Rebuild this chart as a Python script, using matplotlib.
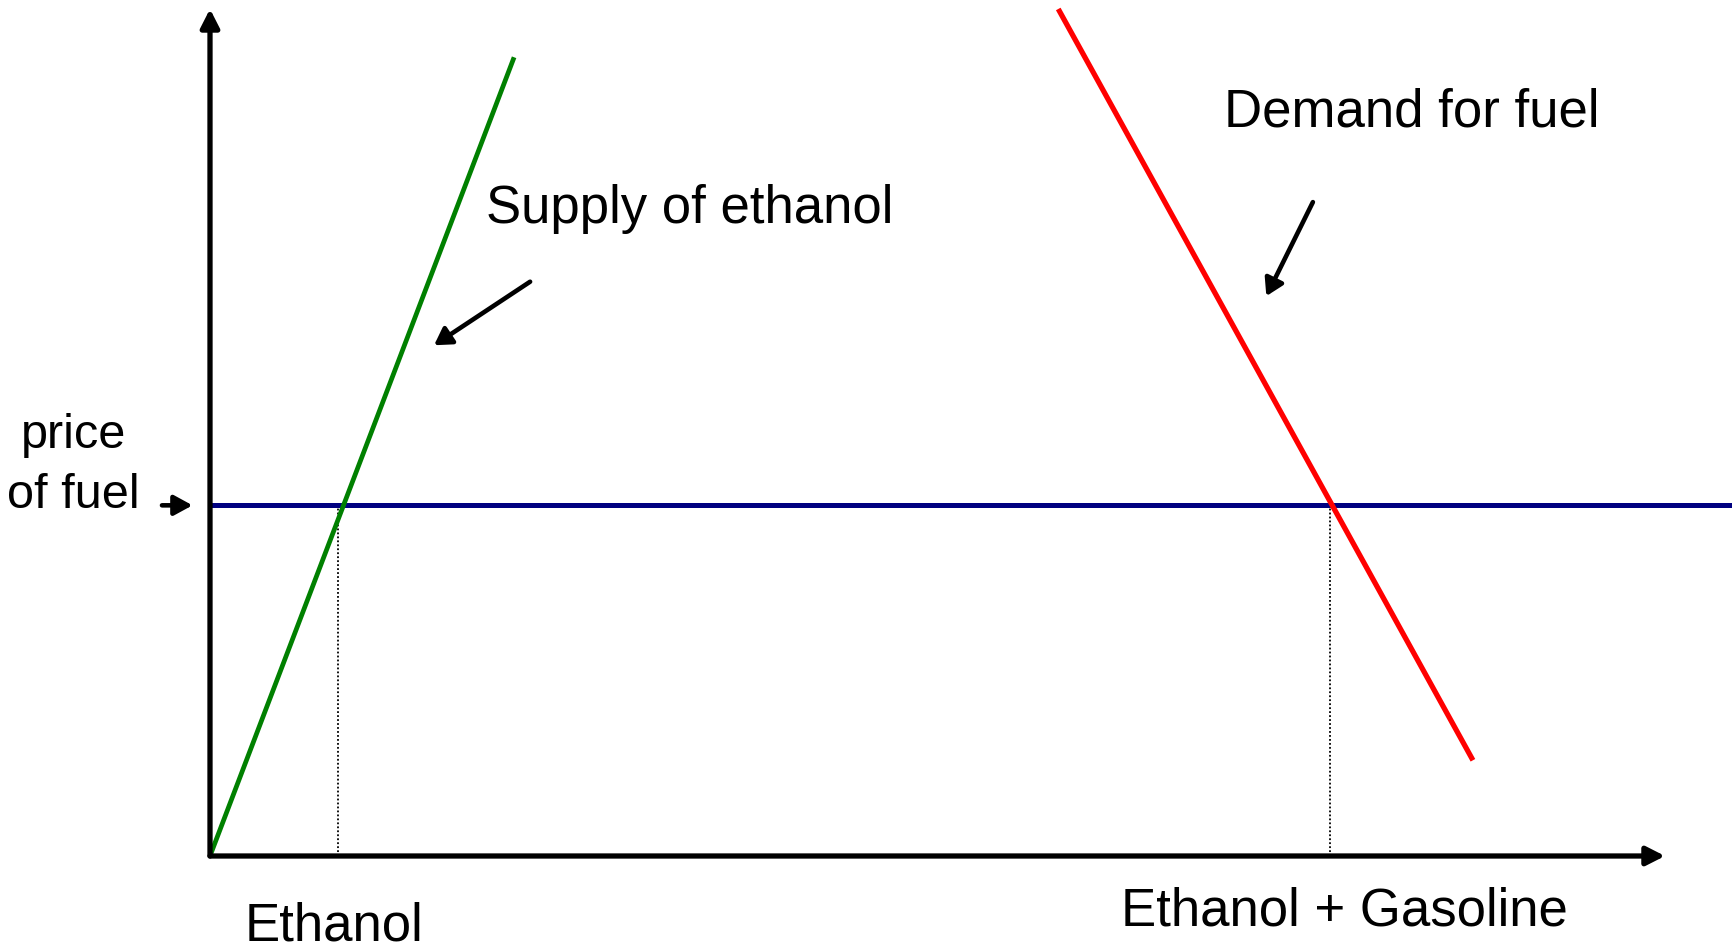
import matplotlib
matplotlib.use("Agg")
import matplotlib.pyplot as plt

plt.rcParams['font.family'] = ['Liberation Sans', 'DejaVu Sans']

# ---- diagram data (quantity Q, price P) ----
supply_q = [0.0, 20.9]
supply_p = [0.0, 94.3]
demand_q = [58.3, 86.8]
demand_p = [100.0, 11.3]
price_level = 41.4
price_line_q = [0.0, 104.7]
ethanol_qty = 8.8
total_qty = 77.0
axis_max_q = 100.0
axis_max_p = 100.0

labels = {
    'supply': 'Supply of ethanol',
    'demand': 'Demand for fuel',
    'x_left': 'Ethanol',
    'x_right': 'Ethanol + Gasoline',
    'y1': 'price',
    'y2': 'of fuel',
}

fig = plt.figure(figsize=(17.32, 9.49), dpi=100)
ax = fig.add_axes([0, 0, 1, 1])
ax.set_xlim(-14.433, 104.605)
ax.set_ylim(-10.98, 101.06)
ax.axis('off')

# axes with arrows
def arrow(x0, y0, x1, y1, lw, hl, hw, ms=20):
    ax.annotate('', xy=(x1, y1), xytext=(x0, y0),
                arrowprops=dict(arrowstyle=f'-|>,head_length={hl},head_width={hw}',
                                lw=lw, color='black', shrinkA=0, shrinkB=0,
                                mutation_scale=ms))

arrow(0, 0, axis_max_q, 0, 3.8, 0.55, 0.28)
arrow(0, 0, 0, axis_max_p, 3.8, 0.55, 0.28)

# dotted guides
ax.plot([ethanol_qty, ethanol_qty], [0, price_level], color='black', lw=1.3,
        linestyle=(0, (1, 1.2)))
ax.plot([total_qty, total_qty], [0, price_level], color='black', lw=1.3,
        linestyle=(0, (1, 1.2)))

# price line
ax.plot(price_line_q, [price_level, price_level], color='#000080', lw=3.6,
        solid_capstyle='butt')
# supply & demand
ax.plot(supply_q, supply_p, color='#008000', lw=3.4, solid_capstyle='butt')
ax.plot(demand_q, demand_p, color='#ff0000', lw=3.8, solid_capstyle='butt')

# pointer arrows
arrow(22.0, 67.8, 15.4, 60.3, 3.3, 0.5, 0.3)
arrow(75.8, 77.2, 72.6, 66.1, 3.3, 0.5, 0.3)
arrow(-3.3, price_level, -1.2, price_level, 3.3, 0.55, 0.3)

fs = 38
ax.text(19.0, 74.7, labels['supply'], fontsize=fs, ha='left', va='baseline')
ax.text(69.7, 86.1, labels['demand'], fontsize=fs, ha='left', va='baseline')
ax.text(62.6, -8.26, labels['x_right'], fontsize=fs, ha='left', va='baseline')
ax.text(2.4, -10.0, labels['x_left'], fontsize=fs, ha='left', va='baseline')
ax.text(-9.4, 48.2, labels['y1'], fontsize=35, ha='center', va='baseline')
ax.text(-9.4, 41.1, labels['y2'], fontsize=35, ha='center', va='baseline')

fig.savefig('out.png', dpi=100)
